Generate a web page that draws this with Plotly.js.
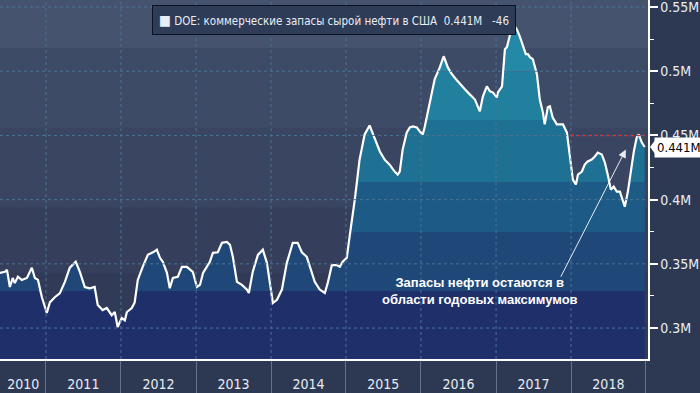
<!DOCTYPE html>
<html><head><meta charset="utf-8">
<script src="https://cdn.plot.ly/plotly-3.0.1.min.js"></script>
<style>html,body{margin:0;padding:0;background:#2d3953;}#chart{width:700px;height:393px;}</style>
</head><body><div id="chart"></div>
<script>
// Weekly-ish readings of DOE US commercial crude stocks (shown as "M" in the source)
const dates = ['2010-05-22','2010-06-15','2010-06-25','2010-07-09','2010-07-23','2010-08-02','2010-08-17','2010-09-05','2010-09-30','2010-10-24','2010-11-08','2010-11-23','2010-12-12',
'2011-01-05','2011-01-20','2011-02-13','2011-03-09','2011-04-03','2011-04-27','2011-05-26','2011-06-15','2011-07-09','2011-08-02','2011-08-26','2011-09-10','2011-10-04','2011-10-24','2011-11-17','2011-12-02','2011-12-16',
'2012-01-05','2012-01-20','2012-01-30','2012-02-23','2012-03-08','2012-03-23','2012-04-16','2012-05-11','2012-06-05','2012-06-24','2012-07-09','2012-07-23','2012-08-12','2012-08-26','2012-09-10','2012-10-04','2012-10-24','2012-11-17','2012-12-16',
'2013-01-05','2013-01-20','2013-02-04','2013-03-09','2013-03-24','2013-04-17','2013-05-07','2013-05-31','2013-06-15','2013-06-29','2013-07-19','2013-08-12','2013-09-05','2013-09-15','2013-10-04','2013-10-29','2013-11-22','2013-12-12','2013-12-27',
'2014-01-10','2014-01-30','2014-02-23','2014-03-19','2014-04-17','2014-05-11','2014-05-31','2014-06-24','2014-07-19','2014-08-02','2014-08-26','2014-09-20','2014-10-04','2014-10-24','2014-11-17','2014-12-02','2014-12-16',
'2015-01-05','2015-01-20','2015-02-13','2015-03-08','2015-04-02','2015-04-26','2015-05-21','2015-06-15','2015-07-09','2015-08-02','2015-08-26','2015-09-10','2015-09-20','2015-10-04','2015-10-24','2015-11-08','2015-11-23','2015-12-12','2015-12-27',
'2016-01-10','2016-01-20','2016-01-30','2016-02-09','2016-03-08','2016-04-02','2016-04-21','2016-05-11','2016-05-31','2016-06-20','2016-07-09','2016-08-02','2016-08-26','2016-09-20','2016-10-14','2016-10-29','2016-11-17','2016-12-02','2016-12-16',
'2017-01-05','2017-01-10','2017-01-30','2017-02-13','2017-02-23','2017-03-08','2017-03-23','2017-04-02','2017-04-12','2017-04-26','2017-05-11','2017-05-26','2017-06-05','2017-06-15','2017-06-29','2017-07-19','2017-08-02','2017-08-17','2017-08-26','2017-09-10','2017-09-20','2017-10-04','2017-10-24','2017-11-08','2017-11-23','2017-12-12','2017-12-27',
'2018-01-10','2018-01-25','2018-02-04','2018-02-23','2018-03-09','2018-03-23','2018-04-12','2018-04-27','2018-05-11','2018-05-31','2018-06-15','2018-06-29','2018-07-14','2018-07-28','2018-08-12','2018-08-27','2018-09-10','2018-09-20','2018-10-05','2018-10-24','2018-11-03','2018-11-17','2018-11-27','2018-12-12','2018-12-26'];
const stocks = [0.343,0.3438,0.3453,0.332,0.339,0.335,0.340,0.3375,0.339,0.347,0.339,0.3375,0.324,
0.3117,0.320,0.324,0.327,0.336,0.347,0.3516,0.3438,0.332,0.331,0.332,0.318,0.314,0.3156,0.310,0.3125,0.3008,
0.3078,0.306,0.3125,0.3156,0.320,0.3375,0.3477,0.357,0.359,0.361,0.3547,0.3516,0.343,0.331,0.339,0.340,0.3477,0.3477,0.3438,
0.332,0.3336,0.343,0.3516,0.3586,0.359,0.3664,0.367,0.3648,0.3555,0.336,0.3336,0.330,0.3273,0.3438,0.357,0.361,0.3508,0.3336,
0.3195,0.322,0.330,0.3508,0.3664,0.3664,0.359,0.3555,0.3438,0.336,0.330,0.3273,0.335,0.349,0.349,0.3477,0.3516,
0.3547,0.3727,0.400,0.431,0.4508,0.4578,0.4469,0.4375,0.431,0.4273,0.4219,0.4195,0.4219,0.439,0.4523,0.4563,0.457,0.4563,0.453,
0.4508,0.457,0.4648,0.470,0.4938,0.503,0.5117,0.503,0.4977,0.4938,0.490,0.486,0.482,0.478,0.4688,0.4805,0.4883,0.4844,0.4836,
0.4797,0.4836,0.4883,0.5172,0.5188,0.5273,0.5344,0.5352,0.5328,0.5273,0.5195,0.5133,0.5133,0.511,0.5094,0.4977,0.478,0.468,0.4586,0.4719,0.4727,0.464,0.4586,0.4586,0.4586,0.4523,0.4336,
0.4156,0.4117,0.4195,0.4219,0.4273,0.4297,0.4313,0.4336,0.4367,0.4352,0.4289,0.4195,0.4078,0.4102,0.4063,0.4063,0.3984,0.3945,0.4063,0.4289,0.4375,0.4484,0.4508,0.4445,0.441];

const yearStarts = ['2011-01-01','2012-01-01','2013-01-01','2014-01-01','2015-01-01','2016-01-01','2017-01-01','2018-01-01','2019-01-01'];
const yearLabelPos = ['2010-09-12','2011-07-02','2012-07-02','2013-07-02','2014-07-02','2015-07-02','2016-07-02','2017-07-02','2018-07-02'];
const yearLabels = ['2010','2011','2012','2013','2014','2015','2016','2017','2018'];
const yTickVals = [0.3,0.35,0.4,0.45,0.5,0.55];
const yTickText = ['0.3M','0.35M','0.4M','0.45M','0.5M','0.55M'];
const lastValueText = '0.441M';
const legendText = 'DOE: коммерческие запасы сырой нефти в США  0.441M   -46';
const noteText = 'Запасы нефти остаются в<br>области годовых максимумов';
const yearHigh = 0.45;

// fill bands (upper limits) and colours
const bandTops = [0.3288, 0.3748, 0.4137, 0.462, 0.50, 1];
const bandColors = ['#1e2f6a','#1f4878','#1d5a86','#1f7194','#21809e','#2389a6'];
// background shading bands
const bgBands = [[0, 0.343, '#313b57'],[0.343,0.394,'#353f5c'],[0.394,0.456,'#394561'],[0.456,0.518,'#3e4b67'],[0.518,1,'#45536e']];

const xRange = ['2010-05-22','2019-01-11'];
const yRange = [0.2759, 0.5555];
const FONT = '"Liberation Sans Narrow", "DejaVu Sans Condensed", "Arial Narrow", sans-serif';

const traces = [];
bandTops.forEach((top, i) => {
  traces.push({
    x: dates, y: stocks.map(v => Math.min(v, top)),
    type: 'scatter', mode: 'lines', line: {width: 0},
    fill: i === 0 ? 'tozeroy' : 'tonexty', fillcolor: bandColors[i],
    hoverinfo: 'skip', showlegend: false
  });
});
traces.push({x: dates, y: stocks, type: 'scatter', mode: 'lines',
  line: {color: '#ffffff', width: 2.2}, hoverinfo: 'skip', showlegend: false});
traces.push({x: [xRange[0]], y: [null], xaxis: 'x2', type: 'scatter', mode: 'markers', hoverinfo: 'skip', showlegend: false});

const shapes = [];
bgBands.forEach(b => shapes.push({type: 'rect', xref: 'paper', x0: 0, x1: 1, yref: 'y', y0: b[0], y1: b[1],
  fillcolor: b[2], line: {width: 0}, layer: 'below'}));
yTickVals.forEach(v => shapes.push({type: 'line', xref: 'paper', x0: 0, x1: 1, yref: 'y', y0: v, y1: v,
  line: {color: '#4b7394', width: 1, dash: 'dot'}, layer: 'above'}));
yearStarts.slice(0, -1).forEach(d => shapes.push({type: 'line', yref: 'paper', y0: 0, y1: 1, xref: 'x', x0: d, x1: d,
  line: {color: '#4b7394', width: 1, dash: 'dot'}, layer: 'above'}));
shapes.push({type: 'line', xref: 'x', x0: '2018-01-01', x1: dates[dates.length - 1], yref: 'y', y0: yearHigh, y1: yearHigh,
  line: {color: '#ff2020', width: 1.5, dash: 'dot'}, layer: 'above'});
// pointer of the last-value tag
shapes.push({type: 'path', xref: 'paper', xsizemode: 'pixel', xanchor: 1, yref: 'y', ysizemode: 'pixel', yanchor: stocks[stocks.length - 1],
  path: 'M 2 0 L 8 8 L 8 -8 Z', fillcolor: '#ffffff', line: {width: 0}, layer: 'above'});

const annotations = [
  {xref: 'paper', yref: 'paper', x: 0.5154, y: 0.944, xanchor: 'center', yanchor: 'middle', showarrow: false,
   text: '<span style="font-size:14px">■</span> ' + legendText, font: {family: FONT, size: 11.5, color: '#e8ecf4'},
   bgcolor: '#2f3c57', bordercolor: '#0d1220', borderwidth: 1, borderpad: 6},
  {xref: 'paper', yref: 'y', x: 1, y: stocks[stocks.length - 1], xanchor: 'left', yanchor: 'middle', xshift: 6, showarrow: false,
   text: lastValueText, font: {family: FONT, size: 13, color: '#000000'}, bgcolor: '#ffffff', borderpad: 2},
  {xref: 'x', yref: 'y', x: '2016-10-14', y: 0.3285, xanchor: 'center', yanchor: 'middle', showarrow: false,
   text: noteText, font: {family: 'Liberation Sans, Arial, sans-serif', size: 13, color: '#ffffff', weight: 'bold'}},
  {xref: 'x', yref: 'y', x: '2018-09-25', y: 0.439, ax: -68, ay: 133, text: ' ', showarrow: true,
   arrowhead: 2, arrowsize: 1.6, arrowwidth: 1, arrowcolor: '#e8ecf4', standoff: 0}
];

const layout = {
  width: 700, height: 393,
  margin: {l: 0, r: 52, t: 0, b: 34, pad: 0},
  paper_bgcolor: '#2d3953', plot_bgcolor: '#3a4662',
  showlegend: false,
  xaxis: {type: 'date', range: xRange, tickvals: yearStarts, showticklabels: false,
    ticks: 'outside', ticklen: 34, tickcolor: '#66728a', tickwidth: 1,
    showgrid: false, zeroline: false, showline: true, linecolor: '#ffffff', linewidth: 1.5, fixedrange: true},
  xaxis2: {type: 'date', range: xRange, overlaying: 'x', side: 'bottom', anchor: 'y',
    tickvals: yearLabelPos, ticktext: yearLabels, ticks: 'outside', ticklen: 12, tickcolor: 'rgba(0,0,0,0)',
    ticklabeloverflow: 'allow',
    tickfont: {family: FONT, size: 14, color: '#e8ecf4'}, showgrid: false, zeroline: false, showline: false},
  yaxis: {range: yRange, side: 'right', tickvals: yTickVals, ticktext: yTickText,
    ticks: 'outside', ticklen: 8, tickwidth: 2, tickcolor: '#ffffff', ticklabeloverflow: 'allow',
    minor: {dtick: 0.025, tick0: 0.3, ticks: 'outside', ticklen: 4, tickcolor: '#ffffff', tickwidth: 1, showgrid: false},
    tickfont: {family: FONT, size: 14, color: '#e8ecf4'},
    showgrid: false, zeroline: false, showline: true, linecolor: '#ffffff', linewidth: 1.5, fixedrange: true},
  shapes: shapes, annotations: annotations
};

Plotly.newPlot('chart', traces, layout, {displayModeBar: false, staticPlot: true});
</script></body></html>
